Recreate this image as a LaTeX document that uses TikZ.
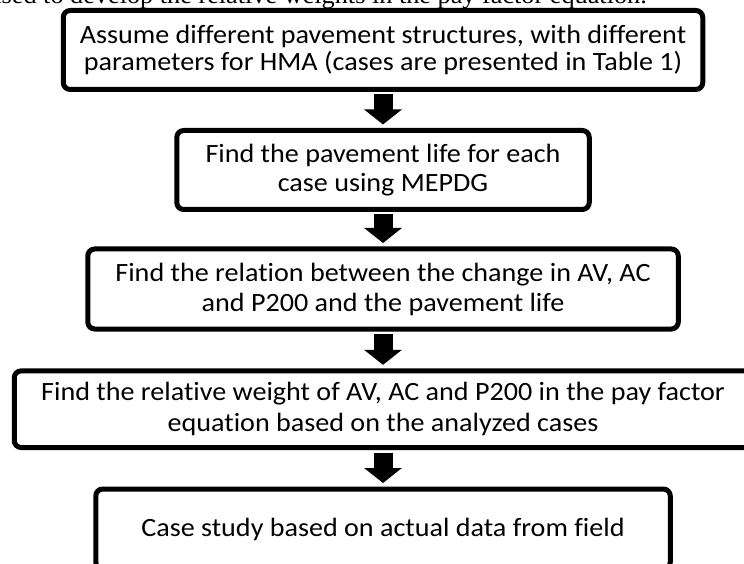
\documentclass[tikz,border=0pt]{standalone}
\usepackage{fontspec}
\setmainfont{Carlito}[FakeStretch=1.065, RawFeature=-liga]
\newfontfamily\pageserif{Liberation Serif}[FakeStretch=1.05]
\usetikzlibrary{arrows.meta,calc}
\begin{document}
\begin{tikzpicture}[x=1pt,y=1pt,
  stepbox/.style={draw=black, line width=5pt, rounded corners=7pt, fill=white,
    inner sep=0pt, align=center, text=black},
  fatarrow/.style={draw=black, line width=19pt,
    -{Triangle[width=37pt,length=15pt]}, shorten <=2.5pt, shorten >=3.5pt}]
\useasboundingbox (0,0) rectangle (744,563);
\clip (0,0) rectangle (744,563);
\fill[white] (0,0) rectangle (744,563);
\node[font=\pageserif\fontsize{25}{30}\selectfont, anchor=base east, inner sep=0pt] (pagetext) at (647,559)
  {used to develop the relative weights in the pay factor equation.};
\node[stepbox, minimum width=639.5pt, minimum height=79pt,
  font=\fontsize{26.4}{27}\selectfont] (b1) at (383,513)
  {Assume different pavement structures, with different\\parameters for HMA (cases are presented in Table 1)};
\node[stepbox, minimum width=412.5pt, minimum height=79pt,
  font=\fontsize{26.4}{28.5}\selectfont] (b2) at (383,393)
  {Find the pavement life for each\\case using MEPDG};
\node[stepbox, minimum width=590.5pt, minimum height=80pt,
  font=\fontsize{26.4}{30}\selectfont] (b3) at (383,274)
  {Find the relation between the change in AV, AC\\and P200 and the pavement life};
\node[stepbox, minimum width=737.5pt, minimum height=76.7pt,
  font=\fontsize{26.4}{31}\selectfont] (b4) at (383,153.8)
  {Find the relative weight of AV, AC and P200 in the pay factor\\equation based on the analyzed cases};
\node[stepbox, minimum width=574.5pt, minimum height=80pt,
  font=\fontsize{26.4}{31}\selectfont] (b5) at (383,34)
  {Case study based on actual data from field};
\draw[fatarrow] (b1.south) -- (b2.north);
\draw[fatarrow] (b2.south) -- (b3.north);
\draw[fatarrow] (b3.south) -- (b4.north);
\draw[fatarrow] (b4.south) -- (b5.north);
\end{tikzpicture}
\end{document}
